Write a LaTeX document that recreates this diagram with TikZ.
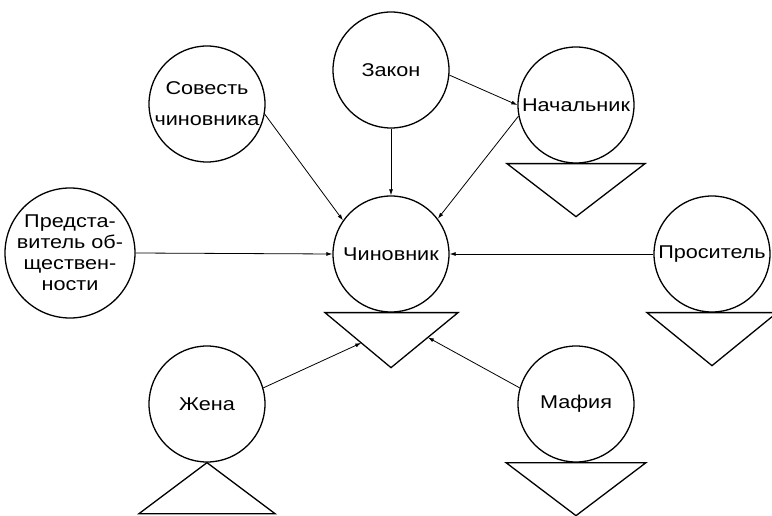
\documentclass[tikz,border=0pt]{standalone}
\usepackage{fontspec}
\setmainfont{Liberation Sans}[FakeStretch=1.17]
\usetikzlibrary{arrows.meta, calc}

\tikzset{
  person/.style={circle, draw, line width=1.3pt, minimum size=116pt, inner sep=0pt,
    align=center, font=\fontsize{18.5}{21}\selectfont},
  link/.style={-{Latex[length=6pt,width=4pt]}, line width=0.8pt},
  funnel/.style={line width=1.3pt, line join=miter},
}

\begin{document}
\begin{tikzpicture}[x=1pt,y=1pt]
\useasboundingbox (0,0) rectangle (772,515);

\node[person] (zakon) at (391,445) {Закон};
\node[person] (sov) at (207,411) {Совесть\\[10pt]чиновника};
\node[person] (nach) at (576,410) {Начальник};
\node[person] (chin) at (391,261) {Чиновник};
\node[person] (pred) at (70,262) {Предста-\\витель об-\\ществен-\\ности};
\node[person] (pros) at (712,261) {Проситель};
\node[person] (zhena) at (207,111) {Жена};
\node[person] (mafia) at (576,111) {Мафия};

% triangles
\coordinate (chA) at ($(chin.south)+(-66,0)$);
\coordinate (chB) at ($(chin.south)+(67,0)$);
\coordinate (chC) at ($(chin.south)+(0,-55)$);
\draw[funnel] (chA) -- (chB) -- (chC) -- cycle;
\draw[funnel] ($(nach.south)+(-69,0)$) -- ++(138,0) -- ($(nach.south)+(0,-53)$) -- cycle;
\draw[funnel] ($(pros.south)+(-65,0)$) -- ++(130,0) -- ($(pros.south)+(0,-53)$) -- cycle;
\draw[funnel] ($(mafia.south)+(-70,0)$) -- ++(140,0) -- ($(mafia.south)+(0,-53)$) -- cycle;
\draw[funnel] (zhena.south) -- ($(zhena.south)+(-68,-51)$) -- ++(136,0) -- cycle;

\coordinate (chZ) at ($(chA)!0.55!(chC)$);
\coordinate (chM) at ($(chB)!0.45!(chC)$);

% links
\draw[link] (zakon.south) -- (chin.north);
\draw[link] (zakon.-5) -- (nach.west);
\draw[link] (sov.-10) -- (chin.145);
\draw[link] (nach.191) -- (chin.37);
\draw[link] (pred.east) -- (chin.west);
\draw[link] (pros.west) -- (chin.east);
\draw[link] (zhena.16) -- (chZ);
\draw[link] (mafia.164) -- (chM);
\end{tikzpicture}
\end{document}
